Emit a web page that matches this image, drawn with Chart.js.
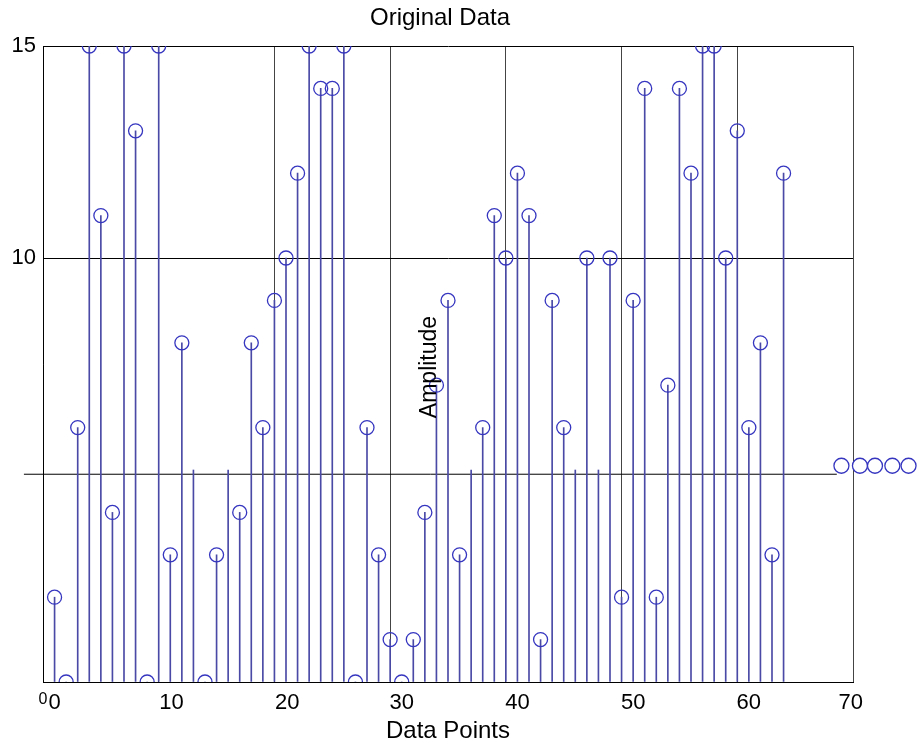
<!DOCTYPE html>
<html>
<head>
<meta charset="utf-8">
<script src="https://cdn.jsdelivr.net/npm/chart.js@4.4.1/dist/chart.umd.min.js"></script>
<style>
  html, body { margin: 0; padding: 0; background: #fff; }
  #wrap { width: 917px; height: 746px; }
</style>
</head>
<body>
<div id="wrap"><canvas id="chart"></canvas></div>
<script>
const FONT = "'Liberation Sans', Arial, Helvetica, sans-serif";

// stem positions (sample number) and their amplitudes
const sampleIdx = Array.from({ length: 64 }, (_, i) => i + 1);
const amplitude = [
  2, 0, 6, 15, 11, 4, 15, 13, 0, 15,
  3, 8, 5, 0, 3, 5, 4, 8, 6, 9,
  10, 12, 15, 14, 14, 15, 0, 6, 3, 1,
  0, 1, 4, 7, 9, 3, 5, 6, 11, 10,
  12, 11, 1, 9, 6, 5, 10, 5, 10, 2,
  9, 14, 2, 7, 14, 12, 15, 15, 10, 13,
  6, 8, 3, 12
];

// the five markers for the amplitude-5 samples ended up right of the box
const strayX = [69.0, 70.6, 71.9, 73.4, 74.8];
const strayY = [5.1, 5.1, 5.1, 5.1, 5.1];

// stray horizontal line near 5 that runs past the left axis
const guideX = [-1.65, 68.6];
const guideY = [4.9, 4.9];

// axis ticks
const yTickVals = [0, 5, 10, 15];
const yTickText = ['', '', '10', '15'];
const xTickPos = [0, 1, 11.1, 21.1, 31, 41, 51, 61, 69.8];
const xTickText = ['0', '0', '10', '20', '30', '40', '50', '60', '70'];

const stemColor = '#4a4aa6';
const markColor = '#3535c0';
const STRAY = 3;

// y label sits inside the plot in the reference
const ampTitle = {
  id: 'ampTitle',
  afterDatasetsDraw(chart) {
    const { ctx, chartArea } = chart;
    ctx.save();
    ctx.translate(chartArea.left + 387, chartArea.top + 321);
    ctx.rotate(-Math.PI / 2);
    ctx.font = '23px ' + FONT;
    ctx.fillStyle = '#000';
    ctx.textAlign = 'center';
    ctx.textBaseline = 'middle';
    ctx.fillText('Amplitude', 0, 0);
    ctx.restore();
  }
};

// points outside the chart area are normally skipped; draw these anyway
const strayPoints = {
  id: 'strayPoints',
  beforeDatasetDraw(chart, args) {
    if (args.index !== STRAY) return;
    args.meta.data.forEach(el => el.draw(chart.ctx));
    return false;
  }
};

new Chart(document.getElementById('chart'), {
  type: 'scatter',
  data: {
    datasets: [
      {
        type: 'line',
        data: guideX.map((x, i) => ({ x, y: guideY[i] })),
        borderColor: '#000',
        borderWidth: 1,
        pointRadius: 0,
        clip: false,
        order: 3
      },
      {
        type: 'bar',
        data: sampleIdx.map((x, i) => ({ x, y: amplitude[i] })),
        backgroundColor: stemColor,
        barThickness: 1,
        order: 2
      },
      {
        type: 'scatter',
        data: sampleIdx.map((x, i) => ({ x, y: amplitude[i] })),
        showLine: false,
        pointStyle: 'circle',
        pointRadius: ctx => (amplitude[ctx.dataIndex] === 5 ? 0 : 7),
        pointBorderColor: markColor,
        pointBackgroundColor: 'rgba(0,0,0,0)',
        pointBorderWidth: 1.3,
        order: 1
      },
      {
        type: 'bubble',
        data: strayX.map((x, i) => ({ x, y: strayY[i] })),
        radius: 7.5,
        borderColor: markColor,
        backgroundColor: '#fff',
        borderWidth: 1.3,
        clip: false,
        order: 0
      }
    ]
  },
  options: {
    responsive: true,
    maintainAspectRatio: false,
    animation: false,
    events: [],
    layout: { padding: { left: 27, right: 64, top: 0, bottom: 0 } },
    plugins: {
      legend: { display: false },
      tooltip: { enabled: false },
      title: {
        display: true,
        text: 'Original Data',
        color: '#000',
        font: { family: FONT, size: 24, weight: 'normal' },
        padding: { top: 4, bottom: 13.2 }
      }
    },
    scales: {
      x: {
        type: 'linear',
        min: 0,
        max: 70,
        offset: false,
        ticks: { display: false, stepSize: 10 },
        grid: { color: '#444', lineWidth: 1, drawTicks: false, offset: false },
        border: { color: '#000', width: 1 },
        afterFit: s => { s.height = 0; }
      },
      xl: {
        type: 'linear',
        position: 'bottom',
        min: 0,
        max: 70,
        grid: { display: false, drawTicks: false },
        border: { display: false },
        afterBuildTicks: s => { s.ticks = xTickPos.map(v => ({ value: v })); },
        ticks: {
          autoSkip: false,
          maxRotation: 0,
          padding: 8,
          color: '#000',
          font: ctx => ({ family: FONT, size: ctx.index === 0 ? 16 : 22 }),
          callback: (v, i) => xTickText[i]
        },
        title: {
          display: true,
          text: 'Data Points',
          color: '#000',
          font: { family: FONT, size: 24 },
          padding: { top: 0, bottom: 0 }
        },
        afterFit: s => { s.height = 64; }
      },
      y: {
        min: 0,
        max: 15,
        afterBuildTicks: s => { s.ticks = yTickVals.map(v => ({ value: v })); },
        ticks: {
          mirror: true,
          crossAlign: 'far',
          padding: -31.5,
          color: '#000',
          font: { family: FONT, size: 22 },
          callback: (v, i) => yTickText[i]
        },
        grid: {
          drawTicks: false,
          color: ctx => (ctx.tick && ctx.tick.value === 5 ? 'rgba(0,0,0,0)' : '#000')
        },
        border: { color: '#000', width: 1 },
        afterFit: s => { s.width = 16; }
      }
    }
  },
  plugins: [ampTitle, strayPoints]
});
</script>
</body>
</html>
